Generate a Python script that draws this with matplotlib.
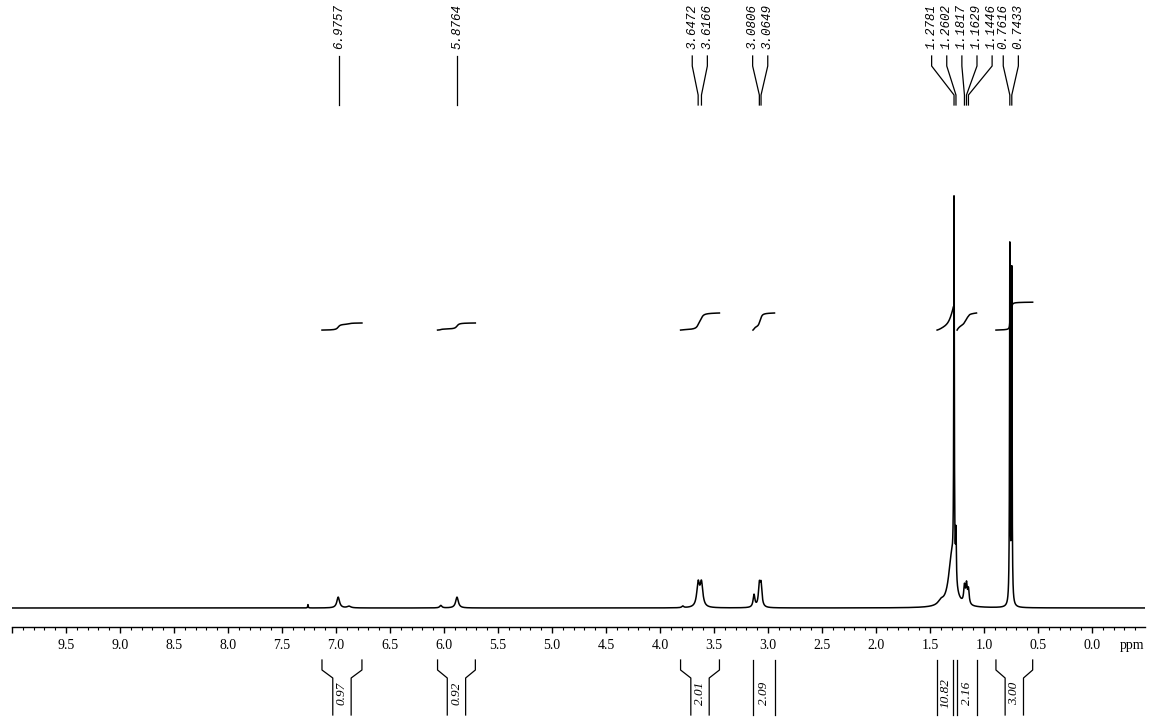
import numpy as np
import matplotlib.pyplot as plt
from matplotlib import transforms
from matplotlib.ticker import MultipleLocator, FuncFormatter

# 1H NMR spectrum
# peak list: shift (ppm), height (tallest line ~ 100), half width at half height (ppm)
peak_ppm = [7.26, 6.98, 6.88, 6.03, 5.88, 3.79, 3.6472, 3.6166, 3.13, 3.0806, 3.0649,
            1.40, 1.30, 1.2781, 1.2602, 1.1817, 1.1629, 1.1446, 0.7616, 0.7433]
peak_height = [0.8, 2.6, 0.4, 0.6, 2.6, 0.4, 5.6, 5.6, 3.0, 5.0, 5.0,
               1.0, 12.0, 90.0, 12.0, 4.0, 4.5, 3.5, 86.0, 80.0]
peak_hwhm = [0.003, 0.015, 0.02, 0.012, 0.015, 0.01, 0.015, 0.015, 0.010, 0.010, 0.010,
             0.03, 0.035, 0.003, 0.004, 0.008, 0.008, 0.008, 0.003, 0.003]

# peak picking labels, grouped the way they are drawn on top
label_groups = [[6.9757], [5.8764], [3.6472, 3.6166], [3.0806, 3.0649],
                [1.2781, 1.2602, 1.1817, 1.1629, 1.1446], [0.7616, 0.7433]]

# integral regions
int_start = [7.13, 6.06, 3.81, 3.14, 1.435, 1.25, 0.89]
int_end = [6.76, 5.71, 3.45, 2.94, 1.285, 1.07, 0.55]
int_value = ['0.97', '0.92', '2.01', '2.09', '10.82', '2.16', '3.00']
int_rise = [1.7, 1.7, 4.1, 4.1, 5.5, 4.1, 6.7]   # drawn height of each integral trace
int_base = 66.8

W, H = 1149, 725
ppm_left, ppm_right = 10.0, -0.49

ppm = np.linspace(ppm_left, ppm_right, 25000)
spec = np.zeros_like(ppm)
for p, h, w in zip(peak_ppm, peak_height, peak_hwhm):
    spec += h / (1 + ((ppm - p) / w) ** 2)

fig = plt.figure(figsize=(W / 100, H / 100), dpi=100)
ax = fig.add_axes([12 / W, 98 / H, 1133 / W, 527 / H])
ax.set_xlim(ppm_left, ppm_right)
ax.set_ylim(-4.57, 122.1)

ax.plot(ppm, spec, color='black', lw=1.1)

# integral traces
for s, e, r in zip(int_start, int_end, int_rise):
    m = (ppm <= s) & (ppm >= e)
    c = np.cumsum(spec[m])
    c = (c - c[0]) / (c[-1] - c[0])
    ax.plot(ppm[m], int_base + r * c, color='black', lw=1.1)

# axis styling
for side in ['top', 'left', 'right']:
    ax.spines[side].set_visible(False)
ax.spines['bottom'].set_linewidth(1.0)
ax.set_yticks([])
ax.xaxis.set_major_locator(MultipleLocator(0.5))
ax.xaxis.set_minor_locator(MultipleLocator(0.1))
ax.xaxis.set_major_formatter(FuncFormatter(lambda v, pos: f'{v:.1f}' if -0.01 < v < 9.6 else ''))
ax.tick_params(axis='x', which='major', direction='out', length=4.5, width=1.0, pad=4,
               labelsize=10, labelfontfamily='Liberation Serif')
ax.tick_params(axis='x', which='minor', direction='out', length=2.2, width=0.8)
ax.patch.set_visible(False)

trans = transforms.blended_transform_factory(ax.transData, fig.transFigure)


def fy(ypx):
    return 1 - ypx / H


ax.text(-0.37, fy(645), 'ppm', transform=trans, ha='center', va='center',
        fontsize=10, family='Liberation Serif')

# peak labels with connector lines
spacing = 0.14
for grp in label_groups:
    n = len(grp)
    center = np.mean(grp)
    for i, p in enumerate(grp):
        lx = center + ((n - 1) / 2 - i) * spacing
        ax.plot([lx, lx, p, p], [fy(56), fy(66), fy(95), fy(105)], color='black',
                lw=0.9, transform=trans, clip_on=False)
        ax.text(lx, fy(4), f'{p:.4f}', transform=trans, rotation=90, ha='center', va='top',
                fontsize=9, family='Liberation Mono', style='italic')

# integral brackets below the axis
for s, e, v in zip(int_start, int_end, int_value):
    c = (s + e) / 2
    half = (s - e) / 2
    inner = half if half < 0.12 else 0.085
    for outer_x, inner_x in [(s, c + inner), (e, c - inner)]:
        ax.plot([outer_x, outer_x, inner_x, inner_x], [fy(660), fy(670), fy(678), fy(715)],
                color='black', lw=0.9, transform=trans, clip_on=False)
    ax.text(c, fy(693), v, transform=trans, rotation=90, ha='center', va='center',
            fontsize=9.5, family='Liberation Serif', style='italic')

fig.savefig('out.png', dpi=100, facecolor='white')
